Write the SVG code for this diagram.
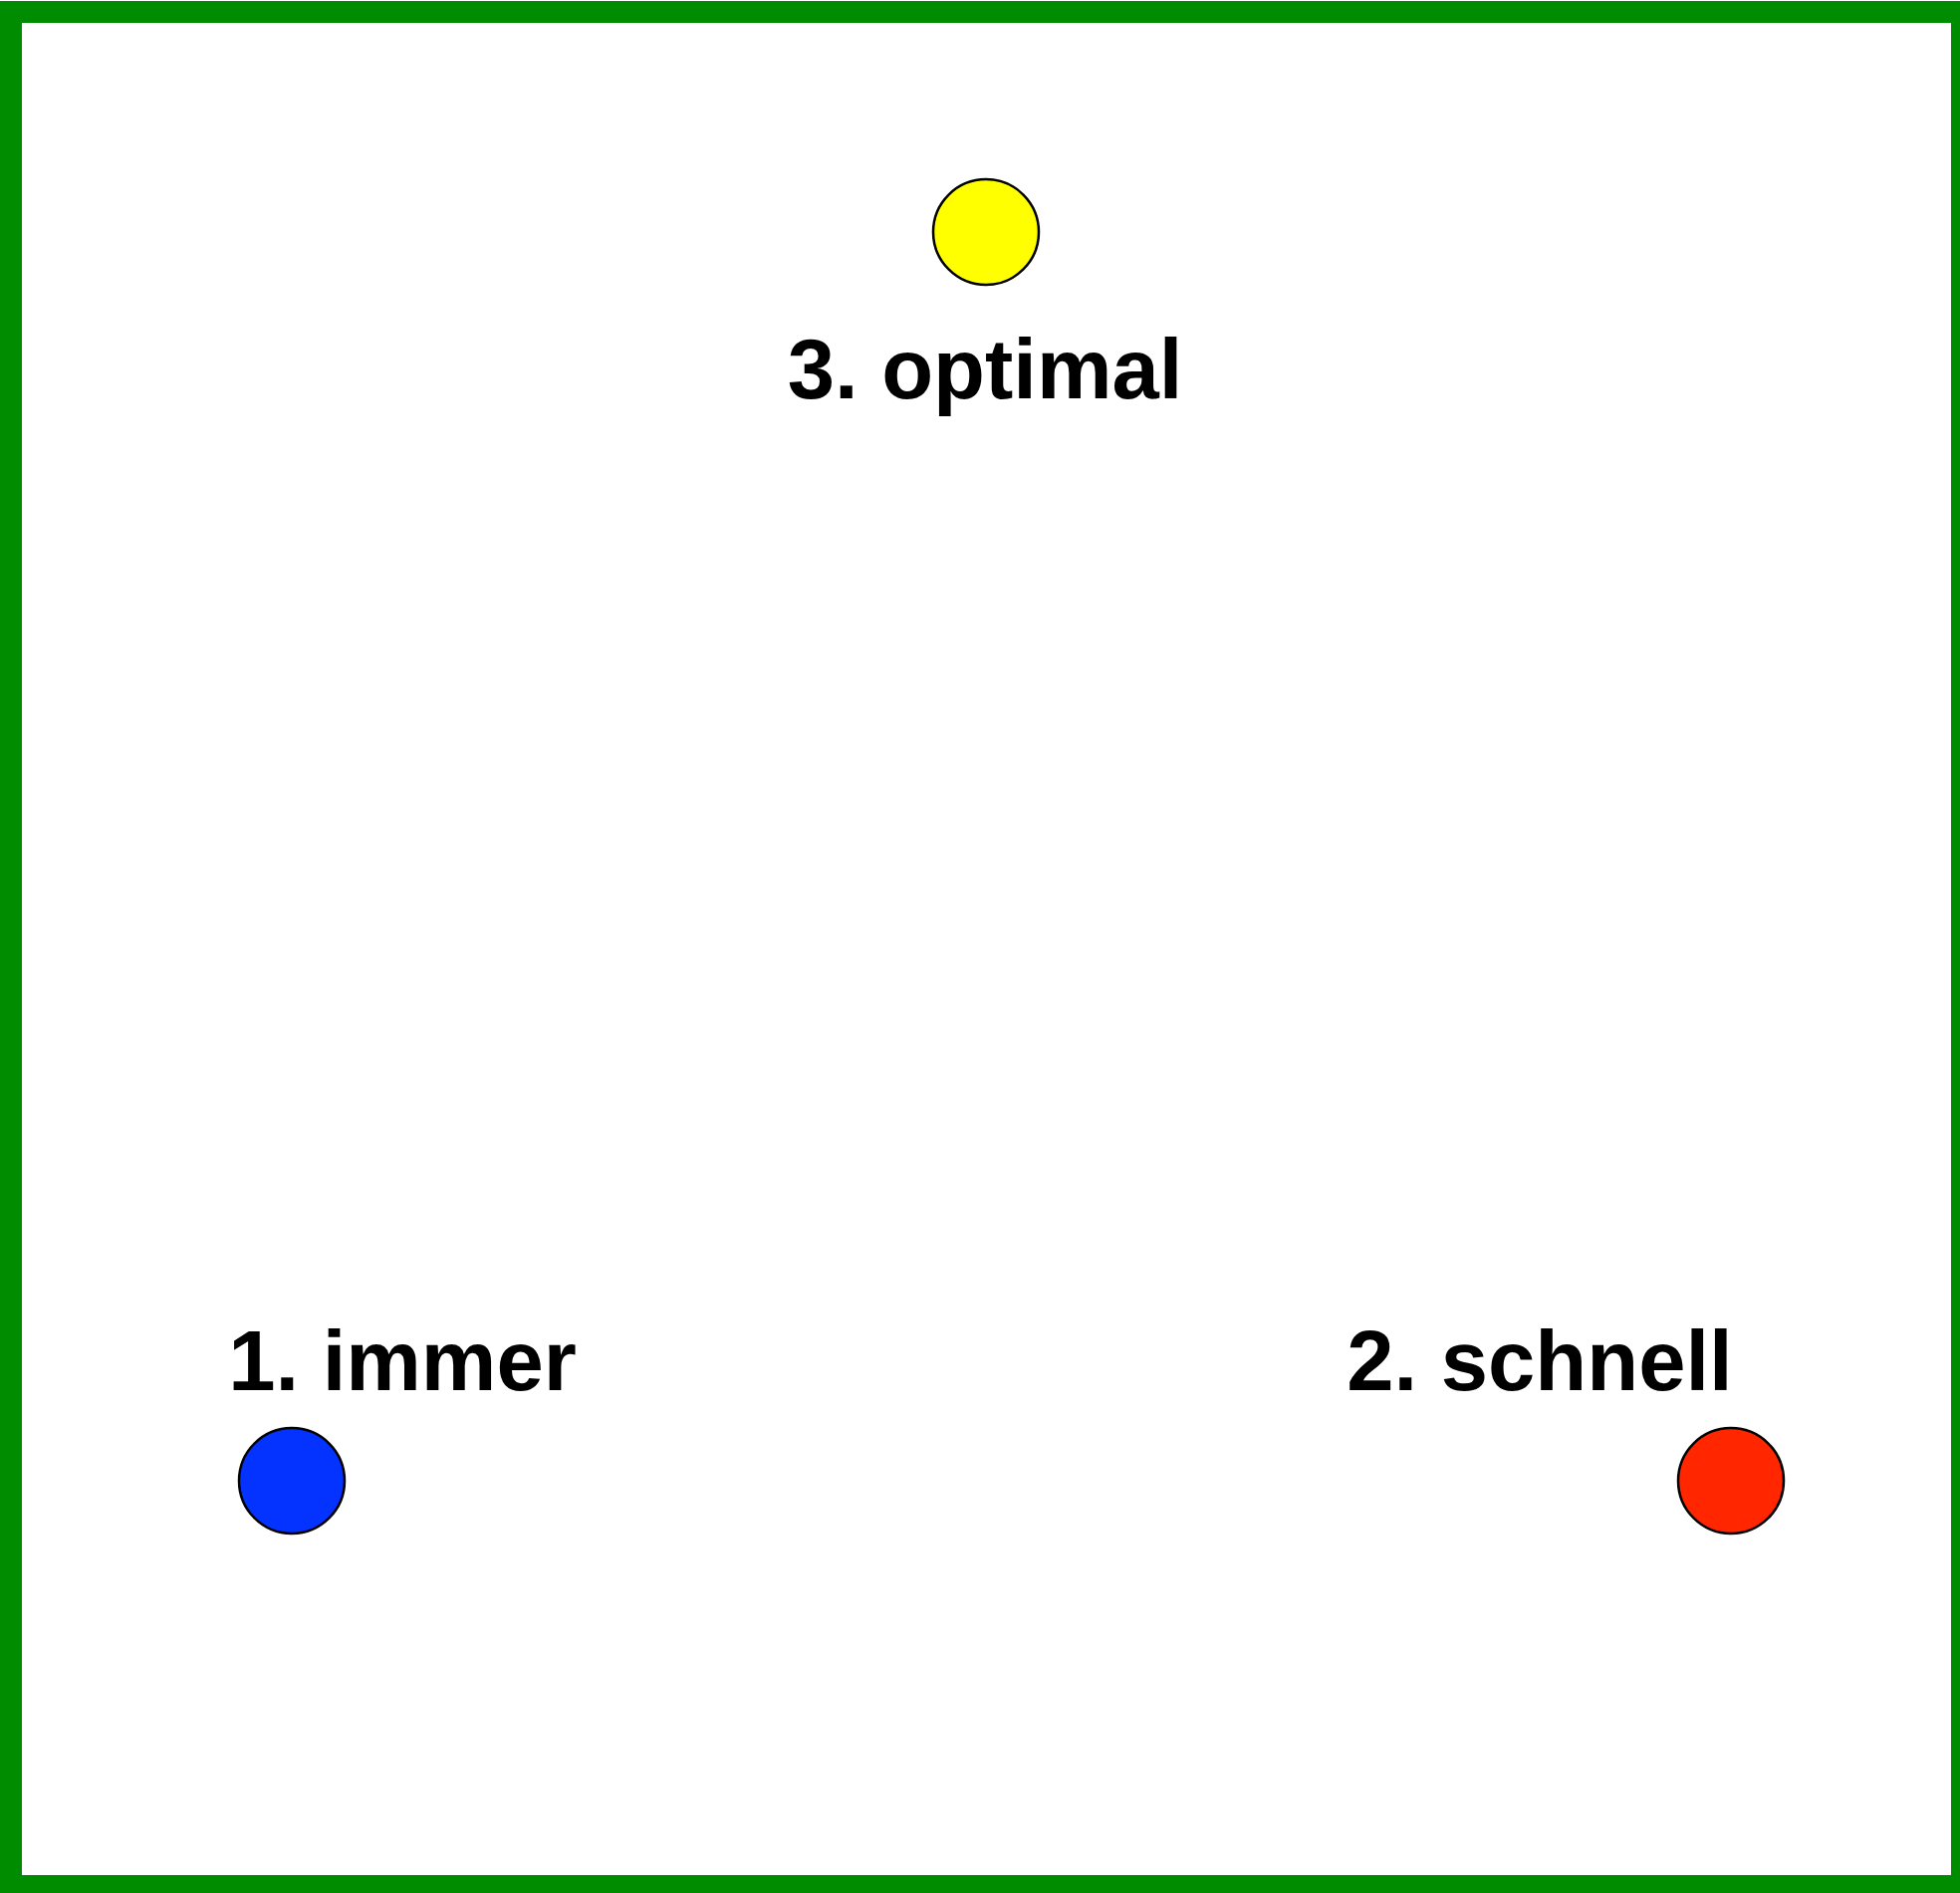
<svg xmlns="http://www.w3.org/2000/svg" width="1968" height="1901" viewBox="0 0 1968 1901">
<style>
.lbl{font-family:"Liberation Sans",Arial,Helvetica,sans-serif;font-weight:bold;font-size:85px;fill:#000;text-anchor:middle}
.dot{stroke:#000;stroke-width:2.5}
</style>
<rect x="0" y="0" width="1968" height="1901" fill="#fff"/>
<rect id="frame" x="11" y="12" width="1959" height="1882" fill="none" stroke="#008c00" stroke-width="22"/>
<g id="node-optimal">
<circle class="dot" cx="990" cy="233" r="53" fill="#ffff00"/>
<text class="lbl" x="989" y="400">3. optimal</text>
</g>
<g id="node-immer">
<circle class="dot" cx="293" cy="1487" r="53" fill="#0433ff"/>
<text class="lbl" x="404" y="1396">1. immer</text>
</g>
<g id="node-schnell">
<circle class="dot" cx="1738" cy="1487" r="53" fill="#ff2600"/>
<text class="lbl" x="1546" y="1396">2. schnell</text>
</g>
<g id="connectors"/>
</svg>
